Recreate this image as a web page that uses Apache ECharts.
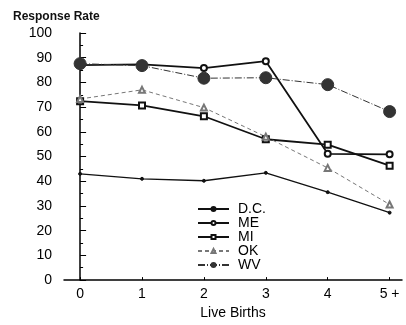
<!DOCTYPE html>
<html>
<head>
<meta charset="utf-8">
<script src="https://cdn.jsdelivr.net/npm/echarts@6/dist/echarts.min.js"></script>
<style>html,body{margin:0;padding:0;background:#fff;}#c{width:406px;height:325px;}</style>
</head>
<body>
<div id="c"></div>
<script>
var births = [0, 1, 2, 3, 4, 5];
var birthLabels = ['0', '1', '2', '3', '4', '5 +'];
var seriesNames = ['D.C.', 'ME', 'MI', 'OK', 'WV'];
var dcValues = [43, 41, 40.2, 43.4, 35.6, 27.3];
var meValues = [87, 87.3, 85.8, 88.6, 51.1, 50.9];
var miValues = [72.4, 70.7, 66.3, 57, 54.8, 46.3];
var okValues = [73.3, 77, 69.8, 58, 45.4, 30.6];
var wvValues = [87.6, 86.8, 81.7, 81.9, 79.1, 68.2];
var yTicks = [0, 10, 20, 30, 40, 50, 60, 70, 80, 90, 100];

var FONT = 'Liberation Sans, Arial, sans-serif';
function pairs(vals) { return births.map(function (b, i) { return [b, vals[i]]; }); }

var chart = echarts.init(document.getElementById('c'), null, {renderer: 'canvas'});
var styles = {
  'D.C.': {symbol: 'circle', symbolSize: 3, line: {color: '#111', width: 1.3, type: 'solid'}},
  'ME': {symbol: 'emptyCircle', symbolSize: 6, line: {color: '#111', width: 1.8, type: 'solid'}},
  'MI': {symbol: 'emptyRect', symbolSize: 6, line: {color: '#111', width: 1.8, type: 'solid'}},
  'OK': {symbol: 'emptyTriangle', symbolSize: 6, line: {color: '#777', width: 1, type: [4, 3]}},
  'WV': {symbol: 'circle', symbolSize: 12, line: {color: '#333', width: 1, type: [7, 2, 1, 2]}}
};
var allValues = [dcValues, meValues, miValues, okValues, wvValues];

chart.setOption({
  animation: false,
  backgroundColor: '#fff',
  title: {
    text: 'Response Rate', left: 8, top: 6,
    textStyle: {fontFamily: FONT, fontSize: 12, fontWeight: 'bold', color: '#111'}
  },
  grid: {left: 64, right: 4, top: 33, bottom: 36, containLabel: false},
  legend: {
    orient: 'vertical', left: 197, top: 202, itemWidth: 31, itemHeight: 5, itemGap: 0,
    padding: 0,
    data: seriesNames,
    textStyle: {fontFamily: FONT, fontSize: 14, color: '#000', padding: [0, 0, 0, 4]}
  },
  xAxis: {
    type: 'value', min: -0.26, max: 5.2,
    name: 'Live Births', nameLocation: 'middle', nameGap: 19,
    nameTextStyle: {fontFamily: FONT, fontSize: 14, color: '#000'},
    axisLine: {show: true, lineStyle: {color: '#000', width: 1.5}},
    axisTick: {show: true, inside: true, length: 3, customValues: births, lineStyle: {color: '#000'}},
    axisLabel: {
      customValues: births, margin: 7, fontFamily: FONT, fontSize: 14, color: '#000',
      formatter: function (v) { return birthLabels[Math.round(v)]; }
    },
    splitLine: {show: false}
  },
  yAxis: {
    type: 'value', min: yTicks[0], max: yTicks[yTicks.length - 1], interval: 10,
    axisLine: {show: true, lineStyle: {color: '#000', width: 1.5}},
    axisTick: {show: true, inside: true, length: 6, lineStyle: {color: '#000'}},
    minorTick: {show: true, splitNumber: 2, length: 3, lineStyle: {color: '#000'}},
    axisLabel: {margin: 12, fontFamily: FONT, fontSize: 14, color: '#000'},
    splitLine: {show: false}
  },
  series: seriesNames.map(function (name, i) {
    var s = styles[name];
    return {
      name: name, type: 'line', data: pairs(allValues[i]),
      symbol: s.symbol, symbolSize: s.symbolSize, showSymbol: true,
      lineStyle: s.line,
      itemStyle: {color: s.line.color, borderColor: s.line.color, borderWidth: 1},
      z: name === 'WV' ? 3 : 2
    };
  })
});
</script>
</body>
</html>
